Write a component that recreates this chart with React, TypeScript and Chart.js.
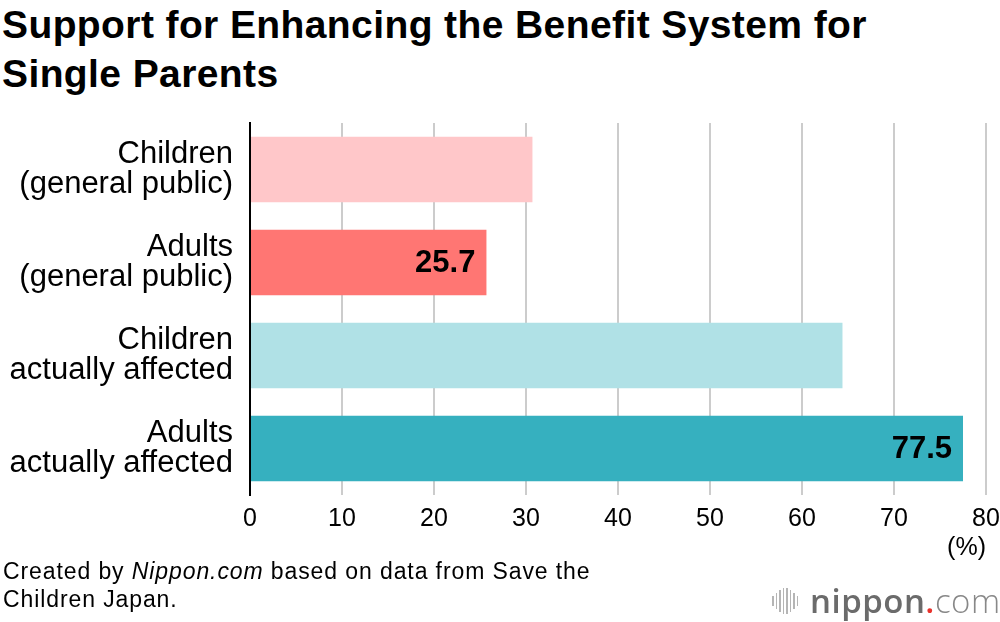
import React, { useEffect, useRef } from "react";
import { Chart, registerables } from "chart.js";

Chart.register(...registerables);

const categories: string[][] = [
  ["Children", "(general public)"],
  ["Adults", "(general public)"],
  ["Children", "actually affected"],
  ["Adults", "actually affected"],
];
const values: number[] = [30.7, 25.7, 64.4, 77.5];
const showValue: boolean[] = [false, true, false, true];
const barColors: string[] = ["#FFC7C9", "#FF7673", "#B0E1E6", "#36B0BF"];
const xTicks: number[] = [0, 10, 20, 30, 40, 50, 60, 70, 80];

const SANS = "'Liberation Sans', Arial, Helvetica, sans-serif";

const valueLabelPlugin = {
  id: "valueLabels",
  afterDatasetsDraw(chart: any) {
    const meta = chart.getDatasetMeta(0);
    const ctx = chart.ctx;
    ctx.save();
    ctx.font = `bold 31px ${SANS}`;
    ctx.fillStyle = "#000";
    ctx.textAlign = "right";
    ctx.textBaseline = "middle";
    meta.data.forEach((bar: any, i: number) => {
      if (!showValue[i]) return;
      ctx.fillText(values[i].toFixed(1), bar.x - 11, bar.y + 1);
    });
    ctx.restore();
  },
};

export default function App() {
  const ref = useRef<HTMLCanvasElement | null>(null);

  useEffect(() => {
    if (!ref.current) return;
    const chart = new Chart(ref.current, {
      type: "bar",
      data: {
        labels: categories,
        datasets: [
          {
            data: values,
            backgroundColor: barColors,
            borderWidth: 0,
            barPercentage: 0.705,
            categoryPercentage: 1,
          },
        ],
      },
      options: {
        indexAxis: "y",
        animation: false,
        responsive: false,
        maintainAspectRatio: false,
        devicePixelRatio: 1,
        layout: { padding: { top: 123, bottom: 87, left: 0, right: 14 } },
        plugins: {
          legend: { display: false },
          tooltip: { enabled: false },
          title: { display: false },
        },
        scales: {
          x: {
            type: "linear",
            min: 0,
            max: 80,
            afterBuildTicks: (scale: any) => {
              scale.ticks = xTicks.map((v) => ({ value: v }));
            },
            afterFit: (scale: any) => {
              scale.height = 40;
              scale.paddingLeft = 0;
              scale.paddingRight = 0;
            },
            grid: {
              color: "#CCCCCC",
              lineWidth: 2,
              drawTicks: false,
            },
            border: { display: false },
            ticks: {
              padding: 9,
              color: "#000",
              font: { family: SANS, size: 25 },
            },
          },
          y: {
            afterFit: (scale: any) => {
              scale.width = 250;
              scale.paddingTop = 0;
              scale.paddingBottom = 0;
            },
            grid: { display: false, drawTicks: false },
            border: { display: true, color: "#000", width: 2 },
            ticks: {
              padding: 17,
              color: "#000",
              font: { family: SANS, size: 31, lineHeight: 0.97 },
            },
          },
        },
      },
      plugins: [valueLabelPlugin],
    });
    return () => chart.destroy();
  }, []);

  return (
    <div
      style={{
        position: "fixed",
        left: 0,
        top: 0,
        width: 1000,
        height: 622,
        background: "#fff",
        overflow: "hidden",
        fontFamily: SANS,
        color: "#000",
      }}
    >
      <div
        style={{
          position: "absolute",
          left: 2,
          top: 1,
          fontWeight: "bold",
          fontSize: 39,
          lineHeight: "48.5px",
          letterSpacing: 0.4,
          whiteSpace: "nowrap",
        }}
      >
        Support for Enhancing the Benefit System for
        <br />
        Single Parents
      </div>
      <canvas
        ref={ref}
        width={1000}
        height={622}
        style={{ position: "absolute", left: 0, top: 0, width: 1000, height: 622 }}
      />
      <div
        style={{
          position: "absolute",
          right: 14,
          top: 533,
          fontSize: 25,
          lineHeight: "26px",
        }}
      >
        (%)
      </div>
      <div
        style={{
          position: "absolute",
          left: 3,
          top: 557,
          fontSize: 23,
          lineHeight: "28px",
          letterSpacing: 0.9,
          whiteSpace: "nowrap",
        }}
      >
        Created by <i>Nippon.com</i> based on data from Save the
        <br />
        Children Japan.
      </div>
      <div
        style={{
          position: "absolute",
          left: 772,
          top: 585,
          height: 32,
          display: "flex",
          alignItems: "center",
        }}
      >
        <div style={{ display: "flex", alignItems: "center", gap: 2, marginRight: 12 }}>
          {[10, 16, 22, 26, 26, 22, 16, 10].map((h, i) => (
            <div key={i} style={{ width: 1.5, height: h, background: "#b5b5b5" }} />
          ))}
        </div>
        <span style={{ fontFamily: "'Open Sans', sans-serif", fontSize: 33, color: "#6b6b6b", fontWeight: 600, letterSpacing: 0.5, lineHeight: "32px" }}>
          nippon
          <span style={{ color: "#E8322C" }}>.</span>
          <span style={{ fontWeight: 300, color: "#888" }}>com</span>
        </span>
      </div>
    </div>
  );
}
